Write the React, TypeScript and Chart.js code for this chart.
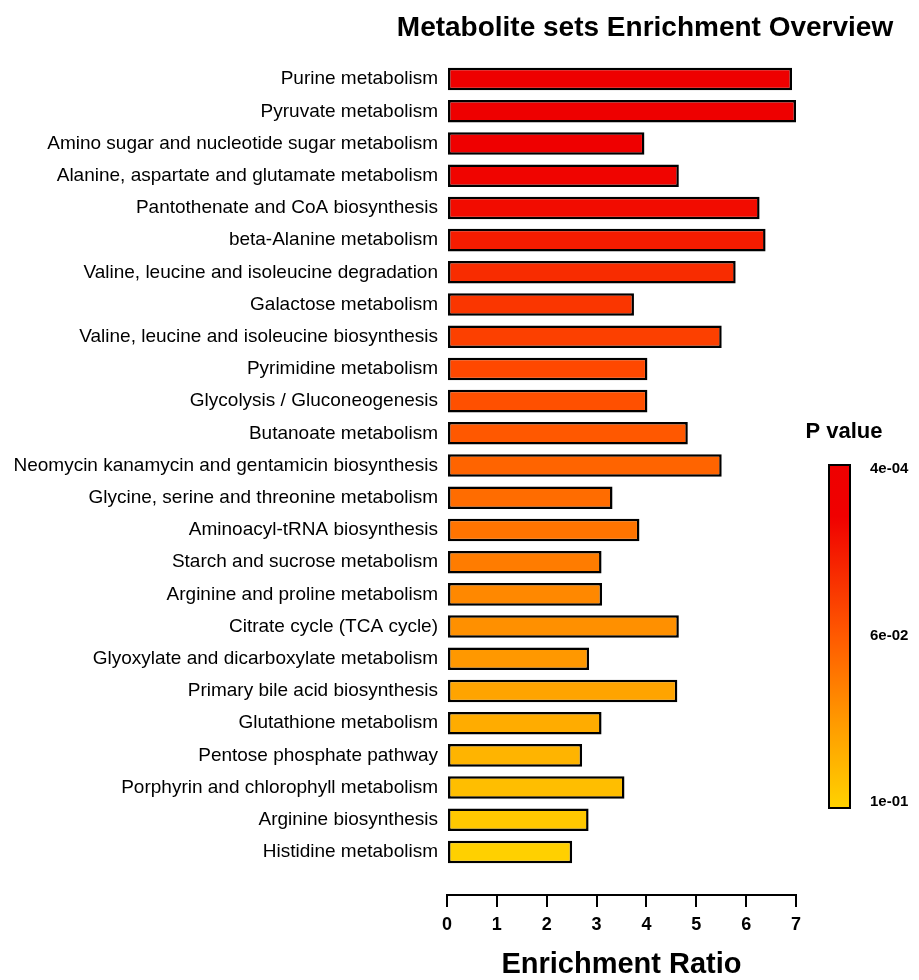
import React, { useEffect, useRef } from 'react';
import { Chart, registerables } from 'chart.js';

Chart.register(...registerables);

const chartTitle = 'Metabolite sets Enrichment Overview';
const xTitle = 'Enrichment Ratio';

const categories = [
  'Purine metabolism',
  'Pyruvate metabolism',
  'Amino sugar and nucleotide sugar metabolism',
  'Alanine, aspartate and glutamate metabolism',
  'Pantothenate and CoA biosynthesis',
  'beta-Alanine metabolism',
  'Valine, leucine and isoleucine degradation',
  'Galactose metabolism',
  'Valine, leucine and isoleucine biosynthesis',
  'Pyrimidine metabolism',
  'Glycolysis / Gluconeogenesis',
  'Butanoate metabolism',
  'Neomycin kanamycin and gentamicin biosynthesis',
  'Glycine, serine and threonine metabolism',
  'Aminoacyl-tRNA biosynthesis',
  'Starch and sucrose metabolism',
  'Arginine and proline metabolism',
  'Citrate cycle (TCA cycle)',
  'Glyoxylate and dicarboxylate metabolism',
  'Primary bile acid biosynthesis',
  'Glutathione metabolism',
  'Pentose phosphate pathway',
  'Porphyrin and chlorophyll metabolism',
  'Arginine biosynthesis',
  'Histidine metabolism',
];

const enrichmentRatio = [
  6.92, 7.0, 3.96, 4.65, 6.27, 6.39, 5.79, 3.75, 5.51, 4.02, 4.02, 4.83, 5.51,
  3.32, 3.86, 3.1, 3.11, 4.65, 2.85, 4.62, 3.1, 2.71, 3.56, 2.84, 2.51,
];

const barColors = [
  '#EE0000', '#EE0000', '#EF0000', '#F00400', '#F20C00', '#F51C00', '#F82C00',
  '#FA3600', '#FC4000', '#FF4800', '#FF5000', '#FF5800', '#FF6400', '#FF6C00',
  '#FF7400', '#FF7C00', '#FF8800', '#FF9000', '#FF9800', '#FFA400', '#FFAC00',
  '#FFB400', '#FFBE00', '#FFC800', '#FFD000',
];

const xMin = 0;
const xMax = 7;
const xStep = 1;

const legendTitle = 'P value';
const legendLabels = ['4e-04', '6e-02', '1e-01'];
const legendColors = ['#EE0000', '#F00000', '#FF5A00', '#FF9A00', '#FFD200'];
const legendStops = [0, 0.15, 0.5, 0.75, 1];

const FONT = 'Arial, "Liberation Sans", Helvetica, sans-serif';

const overlayPlugin = {
  id: 'overlay',
  afterDraw(chart: any) {
    const ctx = chart.ctx as CanvasRenderingContext2D;
    ctx.save();
    ctx.fillStyle = '#000';
    ctx.font = `bold 28px ${FONT}`;
    ctx.textAlign = 'center';
    ctx.textBaseline = 'middle';
    ctx.fillText(chartTitle, 645, 28);

    const lx = 829, ly = 465, lw = 21, lh = 343;
    const g = ctx.createLinearGradient(0, ly, 0, ly + lh);
    legendColors.forEach((c, i) => g.addColorStop(legendStops[i], c));
    ctx.fillStyle = g;
    ctx.fillRect(lx, ly, lw, lh);
    ctx.lineWidth = 2;
    ctx.strokeStyle = '#000';
    ctx.strokeRect(lx, ly, lw, lh);

    ctx.fillStyle = '#000';
    ctx.font = `bold 22px ${FONT}`;
    ctx.textAlign = 'center';
    ctx.fillText(legendTitle, 844, 432);

    ctx.font = `bold 15px ${FONT}`;
    ctx.textAlign = 'left';
    const n = legendLabels.length;
    legendLabels.forEach((t, i) => {
      const f = n > 1 ? i / (n - 1) : 0;
      ctx.fillText(t, 870, ly + 4 + f * (lh - 10));
    });
    ctx.restore();
  },
};

export default function App() {
  const ref = useRef<HTMLCanvasElement>(null);

  useEffect(() => {
    if (!ref.current) return;
    const chart = new Chart(ref.current, {
      type: 'bar',
      data: {
        datasets: [
          {
            data: enrichmentRatio.map((v, i) => ({ x: v, y: i })) as any,
            backgroundColor: barColors,
            borderColor: '#000',
            borderWidth: 2.5,
            borderSkipped: false,
            barPercentage: 0.7,
            categoryPercentage: 1,
          },
        ],
      },
      options: {
        indexAxis: 'y',
        responsive: false,
        animation: false,
        layout: { padding: { top: 63, right: 123, bottom: 0, left: 0 } },
        plugins: {
          legend: { display: false },
          tooltip: { enabled: false },
          title: { display: false },
        },
        scales: {
          x: {
            type: 'linear',
            min: xMin,
            max: xMax,
            afterFit: (s: any) => {
              s.height = 85;
            },
            ticks: {
              stepSize: xStep,
              font: { size: 18, weight: 'bold', family: FONT },
              color: '#000',
              padding: 7,
            },
            grid: {
              drawOnChartArea: false,
              drawTicks: true,
              tickLength: 12,
              color: '#000',
              lineWidth: 2,
            },
            border: { display: true, color: '#000', width: 2 },
            title: {
              display: true,
              text: xTitle,
              font: { size: 29, weight: 'bold', family: FONT, lineHeight: 1 },
              color: '#000',
              padding: { top: 0, bottom: 1 },
            },
          },
          y: {
            type: 'linear',
            reverse: true,
            offset: false,
            bounds: 'data',
            min: -0.5,
            max: categories.length - 0.5 + 0.835,
            afterBuildTicks: (s: any) => {
              s.ticks = categories.map((_, i) => ({ value: i }));
            },
            afterFit: (s: any) => {
              s.width = 447;
            },
            grid: { display: false, drawTicks: false, offset: false },
            border: { display: false },
            ticks: {
              autoSkip: false,
              callback: (v: any) => categories[v as number],
              font: { size: 19, family: FONT },
              color: '#000',
              padding: 9,
            },
          },
        },
      } as any,
      plugins: [overlayPlugin],
    });
    return () => chart.destroy();
  }, []);

  return (
    <div style={{ position: 'absolute', left: 0, top: 0, width: 919, height: 980, background: '#fff' }}>
      <canvas ref={ref} width={919} height={980} style={{ display: 'block' }} />
    </div>
  );
}
